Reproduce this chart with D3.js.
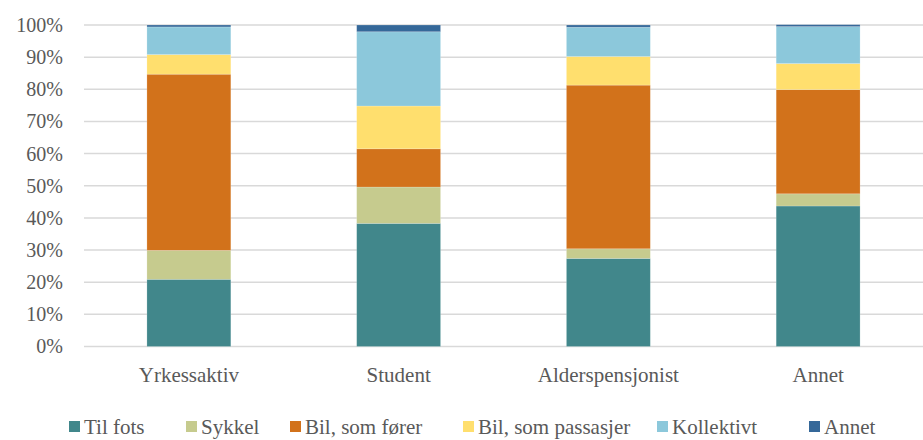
<!DOCTYPE html>
<html>
<head>
<meta charset="utf-8">
<script src="https://cdn.jsdelivr.net/npm/d3@7"></script>
<style>
  html, body { margin: 0; padding: 0; background: #fff; }
  svg { display: block; }
  text { font-family: "Liberation Serif", "DejaVu Serif", serif; fill: #595959; }
</style>
</head>
<body>
<svg id="chart" width="923" height="440"></svg>
<script>
// Travel mode shares (%) per occupation group
const categories = ["Yrkessaktiv", "Student", "Alderspensjonist", "Annet"];
const seriesNames = ["Til fots", "Sykkel", "Bil, som fører", "Bil, som passasjer", "Kollektivt", "Annet"];
const tilFots     = [20.9, 38.3, 27.4, 43.7];
const sykkel      = [9.0, 11.3, 3.0, 3.8];
const bilForer    = [54.8, 11.9, 50.9, 32.4];
const bilPassasjer= [6.1, 13.3, 8.9, 8.1];
const kollektivt  = [8.6, 23.1, 9.1, 11.5];
const annet       = [0.6, 2.1, 0.7, 0.6];
const yTicks = [0, 10, 20, 30, 40, 50, 60, 70, 80, 90, 100];
const colors = ["#41878b", "#c6cb8e", "#d2721b", "#ffdf6e", "#8cc8db", "#356899"];

const seriesValues = [tilFots, sykkel, bilForer, bilPassasjer, kollektivt, annet];
const rows = categories.map((c, i) => {
  const r = { cat: c };
  seriesNames.forEach((s, j) => { r[s] = seriesValues[j][i]; });
  return r;
});

const svg = d3.select("#chart");
const margin = { left: 84, right: 0, top: 25, bottom: 93.5 };
const W = 923, H = 440;

const x = d3.scaleBand().domain(categories)
  .range([margin.left, W - margin.right]).paddingInner(0.6).paddingOuter(0.3);
const y = d3.scaleLinear().domain([0, 100]).range([H - margin.bottom, margin.top]);

// Gridlines
svg.append("g").selectAll("line").data(yTicks).join("line")
  .attr("x1", margin.left).attr("x2", W - margin.right)
  .attr("y1", d => y(d)).attr("y2", d => y(d))
  .attr("stroke", "#d9d9d9").attr("stroke-width", 1.5);

// Y axis labels
const yAxis = d3.axisLeft(y).tickValues(yTicks).tickFormat(d => d + "%").tickSize(0).tickPadding(0);
const gy = svg.append("g").attr("transform", `translate(${margin.left - 21},0)`).call(yAxis);
gy.select(".domain").remove();
gy.selectAll("text").attr("font-size", 20).attr("fill", "#595959");

// Stacked bars
const stack = d3.stack().keys(seriesNames)(rows);
svg.append("g").selectAll("g").data(stack).join("g")
  .attr("fill", (d, i) => colors[i])
  .selectAll("rect").data(d => d).join("rect")
  .attr("x", d => x(d.data.cat))
  .attr("width", x.bandwidth())
  .attr("y", d => y(d[1]))
  .attr("height", d => y(d[0]) - y(d[1]))
  .attr("stroke", "rgba(255,255,255,0.25)").attr("stroke-width", 0.75);

// X axis labels
const xAxis = d3.axisBottom(x).tickSize(0).tickPadding(0);
const gx = svg.append("g").attr("transform", `translate(0,${y(0) + 35})`).call(xAxis);
gx.select(".domain").remove();
gx.selectAll("text").attr("font-size", 21).attr("fill", "#595959").attr("dy", 0);

// Legend
const legendX = [69, 186, 290, 463, 657, 809];
const legend = svg.append("g").selectAll("g").data(seriesNames).join("g")
  .attr("transform", (d, i) => `translate(${legendX[i]},427)`);
legend.append("rect").attr("x", 0).attr("y", -6).attr("width", 11).attr("height", 11)
  .attr("fill", (d, i) => colors[i]);
legend.append("text").attr("x", 15).attr("y", 0).attr("dy", "0.35em")
  .attr("font-size", 21).text(d => d);
</script>
</body>
</html>
